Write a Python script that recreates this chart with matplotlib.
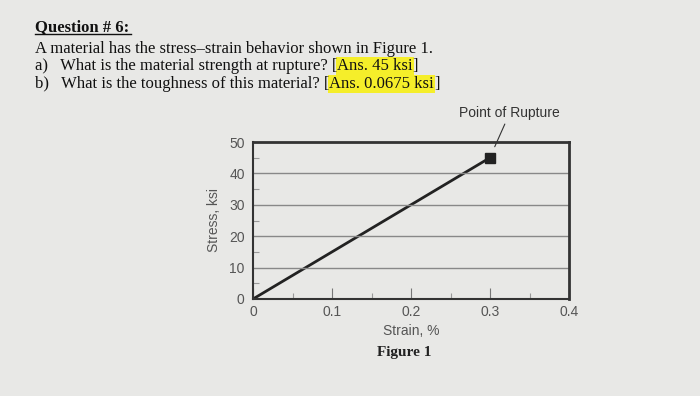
import matplotlib.pyplot as plt

# stress-strain data
strain = [0.0, 0.3]
stress = [0.0, 45.0]
rupture = (0.3, 45.0)
xticks = [0, 0.1, 0.2, 0.3, 0.4]
xticklabels = ['0', '0.1', '0.2', '0.3', '0.4']
yticks = [0, 10, 20, 30, 40, 50]
gridlines = [10, 20, 30, 40]

bg = '#e8e8e6'
serif = 'Liberation Serif'
sans = 'Liberation Sans'

fig = plt.figure(figsize=(7, 3.96), dpi=100, facecolor=bg)

# question text
fig.text(35 / 700, 1 - 31 / 396, 'Question # 6:', fontfamily=serif, fontsize=12,
         fontweight='bold', color='#111')
fig.add_artist(plt.Line2D([35 / 700, 131 / 700], [1 - 34 / 396, 1 - 34 / 396],
                          color='#111', lw=1))
fig.text(35 / 700, 1 - 53 / 396, 'A material has the stress\u2013strain behavior shown in Figure 1.',
         fontfamily=serif, fontsize=12, color='#111')

lines = [('a)   What is the material strength at rupture? [', 'Ans. 45 ksi', 1 - 70 / 396),
         ('b)   What is the toughness of this material? [', 'Ans. 0.0675 ksi', 1 - 88 / 396)]
for pre, ans, yy in lines:
    t1 = fig.text(35 / 700, yy, pre, fontfamily=serif, fontsize=12, color='#111')
    a = fig.add_artist(plt.Annotation(ans, xy=(1, 0), xycoords=t1, va='bottom',
                                      fontfamily=serif, fontsize=12, color='#111',
                                      bbox=dict(facecolor='#f5ee2a', edgecolor='none', pad=1)))
    fig.add_artist(plt.Annotation(']', xy=(1, 0), xycoords=a, va='bottom',
                                  fontfamily=serif, fontsize=12, color='#111'))

# chart
ax = fig.add_axes([253 / 700, 1 - 299 / 396, 316 / 700, 157 / 396], facecolor=bg)
ax.plot(strain, stress, color='#222', lw=2)
ax.plot(*rupture, marker='s', color='#222', ms=7)
ax.set_xlim(0, 0.4)
ax.set_ylim(0, 50)
ax.set_xticks(xticks)
ax.set_xticklabels(xticklabels)
ax.set_yticks(yticks)
ax.set_xticks([0.05, 0.15, 0.25, 0.35], minor=True)
ax.set_yticks([5, 15, 25, 35, 45], minor=True)
for yv in gridlines:
    ax.axhline(yv, color='#888', lw=1)
ax.tick_params(which='major', direction='in', length=8, width=0.8, color='#777',
               labelsize=10, labelcolor='#555', pad=4)
ax.tick_params(which='minor', direction='in', length=4, width=0.8, color='#999')
ax.tick_params(axis='y', which='major', length=0, pad=6)
for lab in ax.get_xticklabels() + ax.get_yticklabels():
    lab.set_fontfamily(sans)
for s in ['left', 'bottom']:
    ax.spines[s].set_linewidth(1.5)
    ax.spines[s].set_color('#333')
for s in ['top', 'right']:
    ax.spines[s].set_linewidth(2)
    ax.spines[s].set_color('#333')

ax.set_xlabel('Strain, %', fontfamily=sans, fontsize=10, color='#555', labelpad=4)
ax.set_ylabel('Stress, ksi', fontfamily=sans, fontsize=10, color='#555', labelpad=6)
ax.annotate('Point of Rupture', xy=(0.306, 48.5), xytext=(0.325, 57),
            textcoords='data', ha='center', va='bottom', fontfamily=sans,
            fontsize=10, color='#333', annotation_clip=False,
            arrowprops=dict(arrowstyle='-', color='#333', lw=0.8, shrinkA=1, shrinkB=0))

fig.text(404 / 700, 1 - 356 / 396, 'Figure 1', fontfamily=serif, fontsize=11,
         fontweight='bold', color='#222', ha='center')

fig.savefig('out.png', dpi=100, facecolor=bg)
